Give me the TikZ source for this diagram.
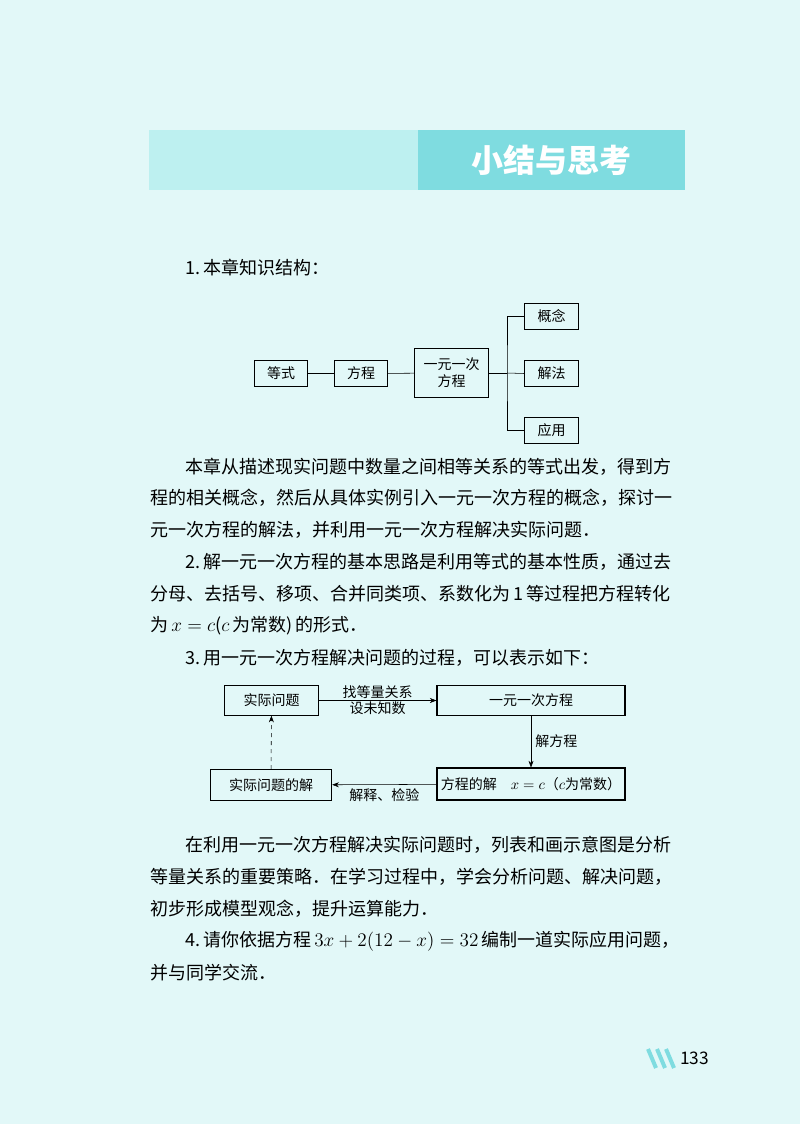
\documentclass[tikz,border=0pt]{standalone}
\usepackage{fontspec}
\setmainfont{Noto Sans CJK SC}
\usepackage{amsmath}
\usetikzlibrary{arrows.meta}
\definecolor{pagebg}{HTML}{E2F8F8}
\definecolor{bandl}{HTML}{BDF0F0}
\definecolor{bandd}{HTML}{7FDCE0}
\begin{document}
\begin{tikzpicture}[x=0.75pt,y=-0.75pt,
  txt/.style={anchor=west,inner sep=0,font=\fontsize{13.5}{16}\selectfont},
  bx/.style={draw,thick,minimum height=20pt,inner sep=1pt,font=\fontsize{10.5}{13}\selectfont},
  lab/.style={inner sep=1pt,font=\fontsize{10.5}{13}\selectfont},
  arr/.style={-{Stealth[length=5pt]}}]
\path[fill=pagebg] (0,0) rectangle (800,1124);
\useasboundingbox (0,0) rectangle (800,1124);
\fill[bandl] (149,130) rectangle (418,190);
\fill[bandd] (418,130) rectangle (685,190);
\node[text=white,font=\fontsize{24}{28}\bfseries\selectfont] (title) at (551,160) {小结与思考};
\node[txt] (t1) at (185,268) {1.\,本章知识结构：};
% diagram 1
\node[bx,minimum width=40pt] (dengshi) at (281,373.5) {等式};
\node[bx,minimum width=40pt] (fangcheng) at (361,373.5) {方程};
\node[bx,minimum width=55pt,minimum height=37pt,align=center] (yiyuan) at (451.5,373) {一元一次\\方程};
\node[bx,minimum width=40pt] (gainian) at (551.5,316.5) {概念};
\node[bx,minimum width=40pt] (jiefa) at (551.5,373.5) {解法};
\node[bx,minimum width=40pt] (yingyong) at (551.5,430.5) {应用};
\draw (dengshi) -- (fangcheng);
\draw (fangcheng) -- (yiyuan);
\coordinate (br) at (507,373);
\draw (yiyuan.east) -- (br);
\draw (gainian.west) -| (br) |- (yingyong.west);
\draw (br) -- (jiefa.west);
% text
\node[txt] (l1) at (185,467) {本章从描述现实问题中数量之间相等关系的等式出发，得到方};
\node[txt] (l2) at (150,498) {程的相关概念，然后从具体实例引入一元一次方程的概念，探讨一};
\node[txt] (l3) at (150,530) {元一次方程的解法，并利用一元一次方程解决实际问题．};
\node[txt] (l4) at (185,562) {2.\,解一元一次方程的基本思路是利用等式的基本性质，通过去};
\node[txt] (l5) at (150,594) {分母、去括号、移项、合并同类项、系数化为\,1\,等过程把方程转化};
\node[txt] (l6) at (150,626) {为\,$x=c$($c$\,为常数)\,的形式．};
\node[txt] (l7) at (185,658) {3.\,用一元一次方程解决问题的过程，可以表示如下：};
% diagram 2
\node[bx,minimum width=70pt,minimum height=22pt] (sj) at (271.5,700.5) {实际问题};
\node[bx,minimum width=141pt,minimum height=22pt] (yy) at (531,700.5) {一元一次方程};
\node[bx,minimum width=141pt,minimum height=24pt] (fj) at (531,784) {方程的解\quad $x=c$（$c$为常数）};
\node[bx,minimum width=91pt,minimum height=23pt] (sjj) at (271,785) {实际问题的解};
\draw[arr] (sj) -- node[lab,above] {找等量关系} node[lab,below] {设未知数} (yy);
\draw[arr] (yy) -- node[lab,right=2pt] {解方程} (fj);
\draw[arr] (fj) -- node[lab,below,yshift=-2pt] {解释、检验} (sjj);
\draw[arr,dashed] (sjj) -- (sj);
% text
\node[txt] (m1) at (185,845) {在利用一元一次方程解决实际问题时，列表和画示意图是分析};
\node[txt] (m2) at (150,877) {等量关系的重要策略．在学习过程中，学会分析问题、解决问题，};
\node[txt] (m3) at (150,909) {初步形成模型观念，提升运算能力．};
\node[txt] (m4) at (185,941) {4.\,请你依据方程\,$3x+2(12-x)=32$\,编制一道实际应用问题，};
\node[txt] (m5) at (150,973) {并与同学交流．};
% page number
\foreach \i in {0,1,2}
  \draw[bandd,line width=3pt] (648+\i*9,1049) -- (656+\i*9,1068);
\node[anchor=west,inner sep=0,font=\fontsize{13}{15}\selectfont] (pg) at (680,1058) {133};
\end{tikzpicture}
\end{document}
